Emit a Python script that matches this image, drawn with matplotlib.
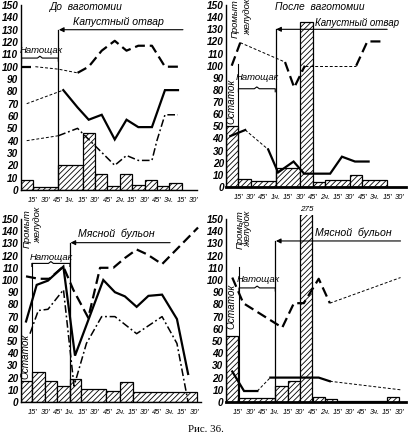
import matplotlib.pyplot as plt
import numpy as np

plt.rcParams['font.family'] = ['Liberation Sans', 'DejaVu Sans']
plt.rcParams['hatch.linewidth'] = 0.6

W, H = 408, 443
U = 12.4  # pixels per 15-minute interval

tick_labels = ["15'", "30'", "45'", "1ч.", "15'", "30'", "45'", "2ч.",
               "15'", "30'", "45'", "3ч.", "15'", "30'"]
y_ticks = list(range(0, 151, 10))

# --- До ваготомии, капустный отвар ---
p1_edges = [0, 1, 3, 5, 6, 7, 8, 9, 10, 11, 12, 13]
p1_bars = [8, 2.5, 20, 46, 13, 3, 13, 4, 8, 3, 6]
p1_dash_x = [0, 1.2, 3.05, 4.6, 5.5, 6.55, 7.6, 8.55, 9.5, 10.6, 11.65, 12.7]
p1_dash_y = [100, 100, 98, 95, 100, 113, 121, 113, 117, 117, 100, 100]
p1_solid_x = [0.5, 3.45, 4.6, 5.5, 6.55, 7.6, 8.55, 9.5, 10.6, 11.65, 12.7]
p1_solid_y = [70, 81, 67, 57, 61, 41, 57, 51, 51, 81, 81]
p1_dd_x = [0.5, 3.05, 4.6, 7.6, 8.55, 9.5, 10.6, 11.0, 11.65, 12.7]
p1_dd_y = [40, 44, 50, 20, 28, 24, 24, 40, 61, 61]

# --- После ваготомии, капустный отвар ---
p2_edges = [0, 1, 2, 4, 6, 7, 8, 10, 11, 13]
p2_bars = [50, 7, 5, 16, 136, 4, 6, 10, 6]
p2_dash_x = [0.46, 1.15, 4.76, 5.5, 6.36, 10.5, 11.4, 12.8]
p2_dash_y = [100, 119, 103, 82, 100, 100, 120, 120]
p2_solid_x = [0.35, 1.55, 3.4, 4.2, 5.45, 6.3, 8.4, 9.35, 10.4, 11.5]
p2_solid_y = [42, 47, 31, 12, 21, 11, 11, 25, 21, 21]

# --- До ваготомии, мясной бульон ---
p3_edges = [0, 0.9, 1.96, 2.9, 3.97, 4.9, 6.9, 8, 9.05, 14.2]
p3_bars = [17, 25, 17, 13, 19, 11, 9, 16, 8]
p3_dash_x = [0.43, 1.43, 2.3, 3.44, 4.24, 5.45, 6.4, 7.47, 8.4, 9.35, 10.2, 11.4, 14.3]
p3_dash_y = [103, 101, 101, 111, 92, 69, 110, 110, 118, 125, 121, 113, 143]
p3_solid_x = [0.43, 1.29, 2.2, 3.44, 4.38, 6.66, 7.6, 8.4, 9.35, 10.3, 11.4, 12.6, 13.5]
p3_solid_y = [66, 96, 99.5, 111, 38, 100, 90, 86.6, 78, 87, 88, 68, 23]
p3_dd_x = [0.75, 1.42, 2.2, 3.45, 4.3, 5.3, 6.53, 7.6, 9.35, 11.4, 12.6, 13.5]
p3_dd_y = [56, 75, 76, 92, 13, 48, 70, 70, 56, 70, 48, 0]

# --- После ваготомии, мясной бульон ---
p4_edges = [0, 1, 4, 5, 6, 7, 8, 9, 13, 14]
p4_bars = [54, 3, 13, 17, 275, 4, 2.5, 1, 4]
p4_dash_x = [0.53, 1.42, 4.56, 5.5, 6.3, 7.5, 8.4, 14.1]
p4_dash_y = [102, 81, 61, 81, 81, 101, 81, 102]
p4_solid_x = [0.53, 1.48, 2.55, 3.6, 7.5, 8.4, 14.1]
p4_solid_y = [25, 9, 9, 20, 20, 17, 10]

STY = {
    'D': dict(color='k', lw=1.6, dashes=(4.5, 2.2)),
    'd': dict(color='k', lw=0.7, dashes=(3, 2)),
    'S': dict(color='k', lw=1.6, solid_joinstyle='miter'),
    'C': dict(color='k', lw=1.1, dashes=(5, 1.8, 1.2, 1.8)),
}
IT = dict(fontstyle='italic', color='k')


def series(ax, x, y, kinds):
    # group consecutive segments of the same kind
    i = 0
    while i < len(kinds):
        j = i
        while j + 1 < len(kinds) and kinds[j + 1] == kinds[i]:
            j += 1
        ax.plot(x[i:j + 2], y[i:j + 2], **STY[kinds[i]])
        i = j + 1


def bars(ax, edges, heights):
    e = np.array(edges, dtype=float)
    ax.bar(e[:-1], heights, width=np.diff(e), align='edge', facecolor='white',
           edgecolor='k', hatch='//////', lw=0.9, zorder=1)


def brace(ax, x0, x1, y):
    xm = (x0 + x1) / 2
    ax.plot([x0, x0, xm - 0.2, xm, xm + 0.2, x1, x1],
            [y - 2.5, y, y, y + 1.5, y, y, y - 2.5], color='k', lw=0.8)


def feed(ax, x0, x1, y, label, lx, ly, fs=7.6):
    ax.plot([x0, x0], [0, y], color='k', lw=0.9)
    ax.annotate('', xy=(x0 + 0.05, y), xytext=(x1, y),
                arrowprops=dict(arrowstyle='-|>', lw=0.8, color='k',
                                mutation_scale=7, shrinkA=0, shrinkB=0))
    ax.text(lx, ly, label, ha='center', va='center', fontsize=fs, **IT)


def setup(ax, xmax, ytop=150, thick_base=False):
    ax.set_xlim(0, xmax)
    ax.set_ylim(0, ytop)
    for s in ('top', 'right'):
        ax.spines[s].set_visible(False)
    ax.spines['left'].set_bounds(0, 150)
    ax.spines['left'].set_linewidth(1.0)
    ax.spines['bottom'].set_linewidth(2.0 if thick_base else 1.0)
    ax.set_yticks(y_ticks)
    ax.set_yticklabels([str(v) for v in y_ticks], fontsize=7.2,
                       fontstyle='italic', fontweight='bold')
    ax.set_xticks(range(1, 15))
    ax.set_xticklabels(tick_labels, fontsize=5.4, fontstyle='italic')
    ax.tick_params(axis='y', length=0, pad=1.5)
    ax.tick_params(axis='x', length=0, pad=5)
    ax.patch.set_alpha(0)


fig = plt.figure(figsize=(W / 100, H / 100), dpi=100)


def axes_px(left, y0, ppu, xmax, ytop=150):
    return fig.add_axes([left / W, (H - y0) / H, xmax * U / W, ytop * ppu / H])


# panel 1
ax1 = axes_px(20.5, 190, 1.233, 14.2)
setup(ax1, 14.2)
bars(ax1, p1_edges, p1_bars)
series(ax1, p1_dash_x, p1_dash_y, 'DddDDDDDDDD')
series(ax1, p1_solid_x, p1_solid_y, 'dSSSSSSSSS')
series(ax1, p1_dd_x, p1_dd_y, 'dCCCCCCCC')
feed(ax1, 3.05, 13.1, 130, 'Капустный отвар', 7.9, 136)
ax1.text(5.3, 148.5, 'До  ваготомии', ha='center', va='center', fontsize=7.4, **IT)
ax1.plot([0.08, 0.08], [103, 120], color='k', lw=0.8)
brace(ax1, 0.08, 3.05, 107)
ax1.text(1.65, 113.5, 'Натощак', ha='center', va='center', fontsize=6.8, **IT)

# panel 2
ax2 = axes_px(226, 187, 1.213, 14.5)
setup(ax2, 14.5, thick_base=True)
bars(ax2, p2_edges, p2_bars)
series(ax2, p2_dash_x, p2_dash_y, 'DdDDdDD')
series(ax2, p2_solid_x, p2_solid_y, 'SdSSSSSSS')
feed(ax2, 4.0, 13.0, 130, 'Капустный отвар', 10.55, 135.5, fs=7.0)
ax2.text(7.6, 148.5, 'После  ваготомии', ha='center', va='center', fontsize=7.4, **IT)
ax2.plot([1.0, 1.0], [0, 101], color='k', lw=0.8)
brace(ax2, 1.0, 3.97, 81)
ax2.text(2.55, 90, 'Натощак', ha='center', va='center', fontsize=6.8, **IT)
ax2.text(0.75, 155, 'Промыт', rotation=90, ha='center', va='top', fontsize=6.8, **IT)
ax2.text(1.75, 155, 'желудок', rotation=90, ha='center', va='top', fontsize=6.8, **IT)
ax2.text(0.45, 71, 'Остаток', rotation=90, ha='center', va='center', fontsize=7.2, **IT)

# panel 3
ax3 = axes_px(20.7, 402, 1.22, 14.5)
setup(ax3, 14.5)
bars(ax3, p3_edges, p3_bars)
series(ax3, p3_dash_x, p3_dash_y, 'DDDDDDDDDDDD')
series(ax3, p3_solid_x, p3_solid_y, 'SSSSSSSSSSSS')
series(ax3, p3_dd_x, p3_dd_y, 'CCCCCCCCCCC')
feed(ax3, 3.97, 12.05, 130.6, 'Мясной  бульон', 7.7, 138.3)
ax3.plot([0.9, 0.9], [0, 113.6], color='k', lw=0.8)
brace(ax3, 0.9, 3.97, 113.6)
ax3.text(2.5, 118.5, 'Натощак', ha='center', va='center', fontsize=6.8, **IT)
ax3.text(0.5, 158, 'Промыт', rotation=90, ha='center', va='top', fontsize=6.8, **IT)
ax3.text(1.35, 160, 'желудок', rotation=90, ha='center', va='top', fontsize=6.8, **IT)
ax3.text(0.42, 37, 'Остаток', rotation=90, ha='center', va='center', fontsize=7.2, **IT)

# panel 4
ax4 = axes_px(225.7, 402, 1.22, 14.5, 153)
setup(ax4, 14.5, 153, thick_base=True)
bars(ax4, p4_edges, p4_bars)
series(ax4, p4_dash_x, p4_dash_y, 'DDDDDDd')
series(ax4, p4_solid_x, p4_solid_y, 'SSdSSd')
feed(ax4, 4.0, 14.1, 132, 'Мясной  бульон', 10.3, 138.5)
ax4.text(6.5, 158, '275', ha='center', va='center', fontsize=5.8, **IT)
ax4.plot([1.07, 1.07], [0, 111], color='k', lw=0.8)
brace(ax4, 1.07, 4.0, 93.5)
ax4.text(2.6, 100, 'Натощак', ha='center', va='center', fontsize=6.8, **IT)
ax4.text(1.15, 157, 'Промыт', rotation=90, ha='center', va='top', fontsize=6.8, **IT)
ax4.text(1.8, 157, 'желудок', rotation=90, ha='center', va='top', fontsize=6.8, **IT)
ax4.text(0.45, 78, 'Остаток', rotation=90, ha='center', va='center', fontsize=7.2, **IT)

fig.text(206 / W, 1 - 430 / H, 'Рис. 36.', ha='center', va='center',
         fontsize=7.8, family='Liberation Serif')

fig.savefig('out.png', dpi=100, facecolor='white')
